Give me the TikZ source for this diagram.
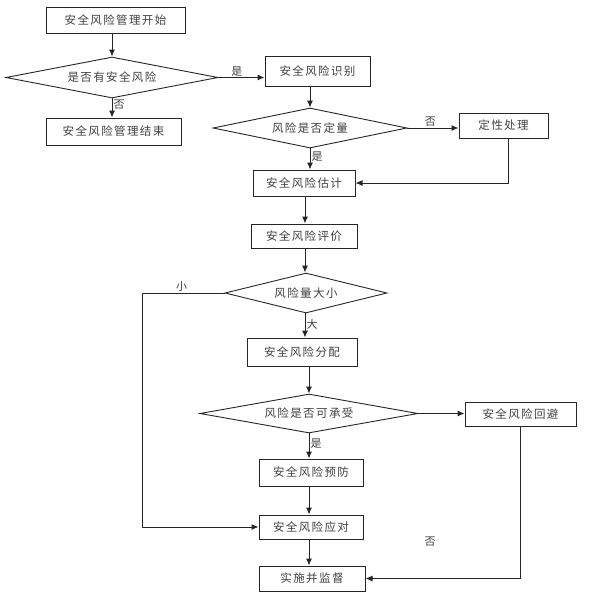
\documentclass[tikz,border=0pt]{standalone}
\usepackage{fontspec}
\newfontfamily\cjk[LetterSpace=12]{Noto Sans CJK SC}
\usetikzlibrary{shapes.geometric,arrows.meta}
\tikzset{
  box/.style={draw=black!85, line width=1pt, inner sep=0pt, font=\cjk\fontsize{11.5}{13}\selectfont, text=black!75},
  decide/.style={diamond, shape aspect=6, draw=black!85, line width=0.9pt, inner sep=0pt, font=\cjk\fontsize{11.5}{13}\selectfont, text=black!75},
  flow/.style={draw=black!85, line width=1pt, -{Latex[length=7pt,width=6pt]}},
  tag/.style={font=\cjk\fontsize{11}{13}\selectfont, text=black!75, inner sep=1pt}
}
\begin{document}
\begin{tikzpicture}[x=1pt,y=-1pt]
        \useasboundingbox (0,0) rectangle (599,600);

        % upper part
        \node[box, minimum width=139pt, minimum height=26pt] (start) at (115.5,20) {安全风险管理开始};
        \node[decide, minimum width=212pt, minimum height=41pt] (hasrisk) at (112,77.5) {是否有安全风险};
        \node[box, minimum width=135pt, minimum height=27pt] (finish) at (113.5,131.5) {安全风险管理结束};
        \node[box, minimum width=105pt, minimum height=30pt] (ident) at (317.5,71) {安全风险识别};
        \node[decide, minimum width=194pt, minimum height=40pt] (quant) at (310,128) {风险是否定量};
        \node[box, minimum width=89pt, minimum height=25pt] (qual) at (503.5,125.5) {定性处理};
        \node[box, minimum width=102pt, minimum height=26pt] (estim) at (304,183) {安全风险估计};
        \node[box, minimum width=106pt, minimum height=24pt] (evalu) at (304,236) {安全风险评价};

        % lower part
        \node[decide, minimum width=162pt, minimum height=40pt] (size) at (306,293) {风险量大小};
        \node[box, minimum width=110pt, minimum height=28pt] (alloc) at (302,352) {安全风险分配};
        \node[decide, minimum width=218pt, minimum height=39pt] (accept) at (309,413.5) {风险是否可承受};
        \node[box, minimum width=111pt, minimum height=24pt] (avoid) at (520.5,414) {安全风险回避};
        \node[box, minimum width=104pt, minimum height=27pt] (prevent) at (311,472.5) {安全风险预防};
        \node[box, minimum width=104pt, minimum height=24pt] (respond) at (311,527) {安全风险应对};
        \node[box, minimum width=106pt, minimum height=25pt] (monitor) at (312,578.5) {实施并监督};

        % connectors
        \draw[flow] (start.south -| hasrisk.north) -- (hasrisk.north);
        \draw[flow] (hasrisk.east) -- (hasrisk.east -| ident.west) node[tag, above, pos=0.4] {是};
        \draw[flow] (hasrisk.south) -- (hasrisk.south |- finish.north) node[tag, right, pos=0.3] {否};
        \draw[flow] (ident.south -| quant.north) -- (quant.north);
        \draw[flow] (quant.east) -- (quant.east -| qual.west) node[tag, above, pos=0.45] {否};
        \draw[flow] (quant.south) -- (quant.south |- estim.north) node[tag, right, pos=0.4] {是};
        \draw[flow] (qual.south -| 508,0) |- (estim.east);
        \draw[flow] (estim.south -| 305,0) -- (evalu.north -| 305,0);
        \draw[flow] (evalu.south -| 305,0) -- (size.north -| 305,0);
        \draw[flow] (size.south -| 305,0) -- (alloc.north -| 305,0) node[tag, right, pos=0.45] {大};
        \draw[flow] (alloc.south -| accept.north) -- (accept.north);
        \draw[flow] (accept.east) -- (accept.east -| avoid.west);
        \draw[flow] (accept.south) -- (accept.south |- prevent.north) node[tag, right, pos=0.4] {是};
        \draw[flow] (prevent.south -| accept.south) -- (respond.north -| accept.south);
        \draw[flow] (respond.south -| accept.south) -- (monitor.north -| accept.south);
        \draw[flow] (size.west) -- (142,293) node[tag, above, pos=0.52] {小} |- (respond.west);
        \draw[flow] (avoid.south) |- (monitor.east);

        % free label
        \node[tag] (nolabel) at (430,542) {否};
\end{tikzpicture}
\end{document}
